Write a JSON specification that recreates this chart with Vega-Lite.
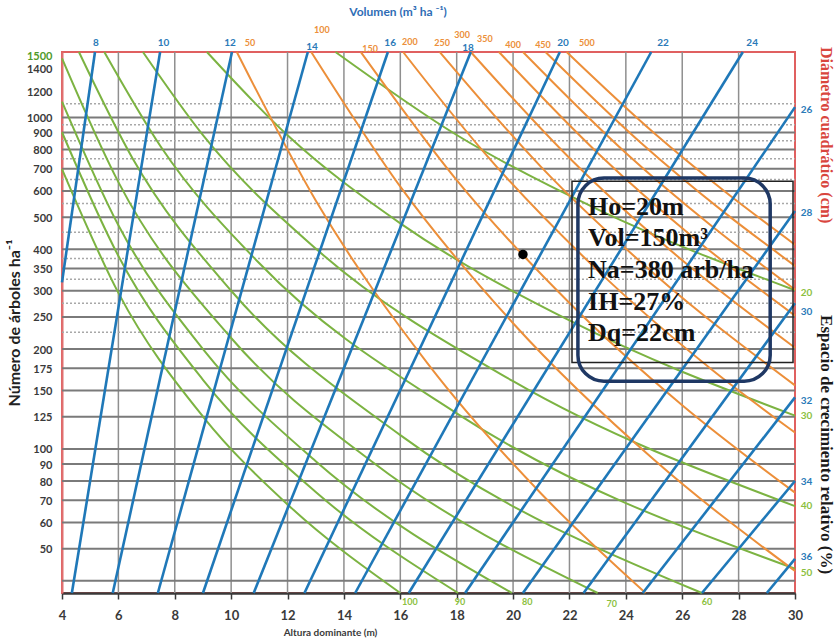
{
 "$schema": "https://vega.github.io/schema/vega-lite/v6.json",
 "width": 733, "height": 541,
 "autosize": {"type": "none"},
 "padding": {"left": 62, "top": 52, "right": 42, "bottom": 49},
 "background": "white",
 "config": {"view": {"stroke": "#e06060", "strokeWidth": 2}},
 "datasets": {
  "vgrid": [{"h":6,"n0":36.75,"n1":1575},{"h":8,"n0":36.75,"n1":1575},{"h":10,"n0":36.75,"n1":1575},{"h":12,"n0":36.75,"n1":1575},{"h":14,"n0":36.75,"n1":1575},{"h":16,"n0":36.75,"n1":1575},{"h":18,"n0":36.75,"n1":1575},{"h":20,"n0":36.75,"n1":1575},{"h":22,"n0":36.75,"n1":1575},{"h":24,"n0":36.75,"n1":1575},{"h":26,"n0":36.75,"n1":1575},{"h":28,"n0":36.75,"n1":1575}],
  "hgrid": [{"n":40,"h":4,"h1":30},{"n":50,"h":4,"h1":30},{"n":60,"h":4,"h1":30},{"n":70,"h":4,"h1":30},{"n":80,"h":4,"h1":30},{"n":90,"h":4,"h1":30},{"n":100,"h":4,"h1":30},{"n":125,"h":4,"h1":30},{"n":150,"h":4,"h1":30},{"n":175,"h":4,"h1":30},{"n":200,"h":4,"h1":30},{"n":250,"h":4,"h1":30},{"n":300,"h":4,"h1":30},{"n":350,"h":4,"h1":30},{"n":400,"h":4,"h1":30},{"n":500,"h":4,"h1":30},{"n":600,"h":4,"h1":30},{"n":700,"h":4,"h1":30},{"n":800,"h":4,"h1":30},{"n":900,"h":4,"h1":30},{"n":1000,"h":4,"h1":30}],
  "hdot": [{"n":1100,"h":4,"h1":30},{"n":950,"h":4,"h1":30},{"n":850,"h":4,"h1":30},{"n":750,"h":4,"h1":30},{"n":650,"h":4,"h1":30},{"n":550,"h":4,"h1":30},{"n":450,"h":4,"h1":30},{"n":375,"h":4,"h1":30},{"n":325,"h":4,"h1":30},{"n":275,"h":4,"h1":30},{"n":225,"h":4,"h1":30}],
  "blue": [
   {"id":"8","h":4,"n":318},{"id":"8","h":5.17,"n":1575},
   {"id":"10","h":4.35,"n":36.75},{"id":"10","h":7.48,"n":1575},
   {"id":"12","h":5.8,"n":36.75},{"id":"12","h":10.03,"n":1575},
   {"id":"14","h":7.4,"n":36.75},{"id":"14","h":12.72,"n":1575},
   {"id":"16","h":9.0,"n":36.75},{"id":"16","h":15.56,"n":1575},
   {"id":"18","h":10.8,"n":36.75},{"id":"18","h":18.5,"n":1575},
   {"id":"20","h":12.6,"n":36.75},{"id":"20","h":21.66,"n":1575},
   {"id":"22","h":14.4,"n":36.75},{"id":"22","h":24.9,"n":1575},
   {"id":"24","h":16.3,"n":36.75},{"id":"24","h":28.15,"n":1575},
   {"id":"26","h":18.3,"n":36.75},{"id":"26","h":30,"n":1074},
   {"id":"28","h":20.35,"n":36.75},{"id":"28","h":30,"n":522},
   {"id":"30","h":22.5,"n":36.75},{"id":"30","h":30,"n":275},
   {"id":"32","h":24.6,"n":36.75},{"id":"32","h":30,"n":143},
   {"id":"34","h":26.7,"n":36.75},{"id":"34","h":30,"n":80},
   {"id":"36","h":29.0,"n":36.75},{"id":"36","h":30,"n":46.6}
  ],
  "green": [
   {"id":"20","h":13.7,"n":1575},{"id":"20","h":18,"n":885},{"id":"20","h":23,"n":528},{"id":"20","h":30,"n":301},
   {"id":"30","h":9.14,"n":1575},{"id":"30","h":12,"n":883},{"id":"30","h":16,"n":479},{"id":"30","h":22,"n":244},{"id":"30","h":30,"n":126},
   {"id":"40","h":6.87,"n":1575},{"id":"40","h":9,"n":884},{"id":"40","h":13,"n":402},{"id":"40","h":20,"n":160},{"id":"40","h":30,"n":67.2},
   {"id":"50","h":5.5,"n":1575},{"id":"50","h":7.5,"n":817},{"id":"50","h":11,"n":363},{"id":"50","h":18,"n":128},{"id":"50","h":30,"n":43.5},
   {"id":"60","h":4.6,"n":1575},{"id":"60","h":6.5,"n":753},{"id":"60","h":10,"n":300},{"id":"60","h":16,"n":110},{"id":"60","h":26.7,"n":36.75},
   {"id":"70","h":4,"n":1507},{"id":"70","h":6,"n":638},{"id":"70","h":10,"n":216},{"id":"70","h":15,"n":91.5},{"id":"70","h":23,"n":36.75},
   {"id":"80","h":4,"n":1116},{"id":"80","h":6,"n":472.5},{"id":"80","h":9,"n":200},{"id":"80","h":13,"n":91.8},{"id":"80","h":19.96,"n":36.75},
   {"id":"90","h":4,"n":902},{"id":"90","h":6,"n":382},{"id":"90","h":9,"n":161.6},{"id":"90","h":13,"n":74.1},{"id":"90","h":18.05,"n":36.75},
   {"id":"100","h":4,"n":698},{"id":"100","h":6,"n":295.5},{"id":"100","h":9,"n":125.2},{"id":"100","h":12,"n":68},{"id":"100","h":16,"n":36.75}
  ],
  "orange": [
   {"id":"50","h":10.2,"n":1575},{"id":"50","h":13,"n":561.5},{"id":"50","h":17,"n":179.6},{"id":"50","h":21,"n":73.2},{"id":"50","h":24.7,"n":36.75},
   {"id":"100","h":12.84,"n":1575},{"id":"100","h":16,"n":618},{"id":"100","h":20,"n":239.4},{"id":"100","h":25,"n":92.7},{"id":"100","h":30,"n":42.8},
   {"id":"150","h":14.6,"n":1575},{"id":"150","h":18,"n":647},{"id":"150","h":22,"n":275.6},{"id":"150","h":26,"n":135.5},{"id":"150","h":30,"n":73.8},
   {"id":"200","h":16.1,"n":1575},{"id":"200","h":19,"n":779},{"id":"200","h":23,"n":345.5},{"id":"200","h":27,"n":174.8},{"id":"200","h":30,"n":112},
   {"id":"250","h":17.4,"n":1575},{"id":"250","h":21,"n":708},{"id":"250","h":25,"n":337.6},{"id":"250","h":30,"n":155.4},
   {"id":"300","h":18.5,"n":1575},{"id":"300","h":22,"n":754},{"id":"300","h":26,"n":370.6},{"id":"300","h":30,"n":201.8},
   {"id":"350","h":19.5,"n":1575},{"id":"350","h":23,"n":781},{"id":"350","h":26.5,"n":427},{"id":"350","h":30,"n":252.4},
   {"id":"400","h":20.35,"n":1575},{"id":"400","h":24,"n":781},{"id":"400","h":27,"n":473.6},{"id":"400","h":30,"n":302.4},
   {"id":"450","h":21.15,"n":1575},{"id":"450","h":24.5,"n":843},{"id":"450","h":27.5,"n":516},{"id":"450","h":30,"n":356.5},
   {"id":"500","h":21.9,"n":1575},{"id":"500","h":25,"n":897},{"id":"500","h":27.5,"n":598.5},{"id":"500","h":30,"n":413}
  ],
  "blueTop": [{"t":"8","h":5.2,"n":1677},{"t":"10","h":7.6,"n":1677},{"t":"12","h":9.96,"n":1677},{"t":"14","h":12.87,"n":1630},{"t":"16","h":15.64,"n":1677},{"t":"18","h":18.4,"n":1620},{"t":"20","h":21.77,"n":1677},{"t":"22","h":25.32,"n":1677},{"t":"24","h":28.48,"n":1677}],
  "blueRight": [{"t":"26","h":30.2,"n":1052},{"t":"28","h":30.2,"n":514},{"t":"30","h":30.2,"n":258},{"t":"32","h":30.2,"n":139.9},{"t":"34","h":30.2,"n":79.7},{"t":"36","h":30.2,"n":47.3}],
  "greenRight": [{"t":"20","h":30.2,"n":294.5},{"t":"30","h":30.2,"n":126},{"t":"40","h":30.2,"n":67.4},{"t":"50","h":30.2,"n":42.3}],
  "greenBottom": [{"t":"100","h":16.34,"n":34.6},{"t":"90","h":18.12,"n":34.6},{"t":"80","h":20.5,"n":34.6},{"t":"70","h":23.5,"n":34.0},{"t":"60","h":26.88,"n":34.6}],
  "orangeTop": [{"t":"50","h":10.67,"n":1677},{"t":"100","h":13.22,"n":1835},{"t":"150","h":14.93,"n":1608},{"t":"200","h":16.34,"n":1688},{"t":"250","h":17.48,"n":1677},{"t":"300","h":18.19,"n":1775},{"t":"350","h":19.0,"n":1725},{"t":"400","h":20.0,"n":1654},{"t":"450","h":21.06,"n":1654},{"t":"500","h":22.62,"n":1677}],
  "topTitle": [{"t":"Volumen (m³ ha ⁻¹)","h":15.92,"n":2080}],
  "rightRed": [{"t":"Diámetro cuadrático (cm)","h":31.1,"n":884}],
  "rightBlack": [{"t":"Espacio de crecimiento relativo (%)","h":31.1,"n":103}],
  "boxText": [{"t":"Ho=20m","h":22.66,"n":537},{"t":"Vol=150m³","h":22.66,"n":432},{"t":"Na=380 arb/ha","h":22.66,"n":345.7},{"t":"IH=27%","h":22.66,"n":277},{"t":"Dq=22cm","h":22.66,"n":223}],
  "rect1": [{"h":22.09,"h2":29.93,"n":641.7,"n2":182.2}],
  "rect2": [{"h":22.3,"h2":29.12,"n":656,"n2":160}],
  "dot": [{"h":20.35,"n":386}]
 },
 "encoding": {
  "x": {"field": "h", "type": "quantitative", "scale": {"domain": [4, 30], "nice": false, "zero": false},
   "axis": {"values": [4,6,8,10,12,14,16,18,20,22,24,26,28,30], "title": "Altura dominante (m)", "grid": false,
    "labelFontSize": 13, "labelFontWeight": "bold", "labelColor": "#3a3a3a", "labelFont": "Lato", "labelFlush": false,
    "domainColor": "#3a3a3a", "domainWidth": 2.5, "tickColor": "#3a3a3a", "tickSize": 6, "tickWidth": 1.5, "labelPadding": 10,
    "titleFont": "Lato", "titleFontSize": 10, "titleFontWeight": "bold", "titleColor": "#3a3a3a",
    "titleX": 268, "titleY": 39, "titleAlign": "center", "titleBaseline": "middle"}},
  "y": {"field": "n", "type": "quantitative", "scale": {"type": "log", "domain": [36.75, 1575], "nice": false},
   "axis": {"values": [50,60,70,80,90,100,125,150,175,200,250,300,350,400,500,600,700,800,900,1000,1200,1400,1500],
    "format": "d", "title": "Número de árboles ha⁻¹", "grid": false, "ticks": false, "tickSize": 0, "labelPadding": 10,
    "labelFontSize": 11, "labelFontWeight": "bold", "labelFont": "Lato", "labelOverlap": false, "labelBound": false,
    "labelColor": {"condition": {"test": "datum.value == 1500", "value": "#4f9a2a"}, "value": "#3a3a3a"},
    "labelOffset": {"condition": {"test": "datum.value == 1500", "value": -3}, "value": 1},
    "domainColor": "#e07070", "domainWidth": 2,
    "titleFont": "Lato", "titleFontSize": 16, "titleFontWeight": "bold", "titleColor": "#222", "titlePadding": 4}}
 },
 "layer": [
  {
   "data": {"name": "vgrid"},
   "mark": {"type": "rule", "color": "#8f8f8f", "strokeWidth": 1.5},
   "encoding": {"y": {"field": "n0", "type": "quantitative"}, "y2": {"field": "n1"}}
  },
  {
   "data": {"name": "hgrid"},
   "mark": {"type": "rule", "color": "#7a7a7a", "strokeWidth": 2},
   "encoding": {"x2": {"field": "h1"}}
  },
  {
   "data": {"name": "hdot"},
   "mark": {"type": "rule", "color": "#a8a8a8", "strokeWidth": 1.5, "strokeDash": [2, 2]},
   "encoding": {"x2": {"field": "h1"}}
  },
  {
   "data": {"name": "green"},
   "mark": {"type": "line", "color": "#7cb342", "strokeWidth": 2, "interpolate": "monotone"},
   "encoding": {"detail": {"field": "id", "type": "nominal"}}
  },
  {
   "data": {"name": "orange"},
   "mark": {"type": "line", "color": "#ec8f3a", "strokeWidth": 2, "interpolate": "monotone"},
   "encoding": {"detail": {"field": "id", "type": "nominal"}}
  },
  {
   "data": {"name": "blue"},
   "mark": {"type": "line", "color": "#1f78b8", "strokeWidth": 2.6},
   "encoding": {"detail": {"field": "id", "type": "nominal"}}
  },
  {
   "data": {"name": "rect1"},
   "mark": {"type": "rect", "fill": "transparent", "stroke": "#222", "strokeWidth": 1.5},
   "encoding": {"x2": {"field": "h2"}, "y2": {"field": "n2"}}
  },
  {
   "data": {"name": "rect2"},
   "mark": {"type": "rect", "fill": "transparent", "stroke": "#1f3864", "strokeWidth": 3.5, "cornerRadius": 26},
   "encoding": {"x2": {"field": "h2"}, "y2": {"field": "n2"}}
  },
  {
   "data": {"name": "dot"},
   "mark": {"type": "point", "filled": true, "color": "#000", "size": 90, "opacity": 1},
   "encoding": {}
  },
  {
   "data": {"name": "boxText"},
   "mark": {"type": "text", "font": "Liberation Serif", "fontSize": 26, "fontWeight": "bold", "align": "left", "baseline": "middle", "color": "#111"},
   "encoding": {"text": {"field": "t"}}
  },
  {
   "data": {"name": "blueTop"},
   "mark": {"type": "text", "font": "Lato", "fontSize": 10, "fontWeight": "bold", "align": "center", "baseline": "middle", "color": "#2a7ab8"},
   "encoding": {"text": {"field": "t"}}
  },
  {
   "data": {"name": "blueRight"},
   "mark": {"type": "text", "font": "Lato", "fontSize": 10, "fontWeight": "bold", "align": "left", "baseline": "middle", "color": "#2a7ab8"},
   "encoding": {"text": {"field": "t"}}
  },
  {
   "data": {"name": "greenRight"},
   "mark": {"type": "text", "font": "Lato", "fontSize": 10, "fontWeight": "bold", "align": "left", "baseline": "middle", "color": "#8cbf3f"},
   "encoding": {"text": {"field": "t"}}
  },
  {
   "data": {"name": "greenBottom"},
   "mark": {"type": "text", "font": "Lato", "fontSize": 9, "fontWeight": "bold", "align": "center", "baseline": "middle", "color": "#8cbf3f"},
   "encoding": {"text": {"field": "t"}}
  },
  {
   "data": {"name": "orangeTop"},
   "mark": {"type": "text", "font": "Lato", "fontSize": 9, "fontWeight": "bold", "align": "center", "baseline": "middle", "color": "#ec8f3a"},
   "encoding": {"text": {"field": "t"}}
  },
  {
   "data": {"name": "topTitle"},
   "mark": {"type": "text", "font": "Lato", "fontSize": 12, "fontWeight": "bold", "align": "center", "baseline": "middle", "color": "#2f6db5"},
   "encoding": {"text": {"field": "t"}}
  },
  {
   "data": {"name": "rightRed"},
   "mark": {"type": "text", "font": "Liberation Serif", "fontSize": 16, "fontWeight": "bold", "align": "center", "baseline": "middle", "angle": 90, "color": "#d9463e"},
   "encoding": {"text": {"field": "t"}}
  },
  {
   "data": {"name": "rightBlack"},
   "mark": {"type": "text", "font": "Liberation Serif", "fontSize": 17, "fontWeight": "bold", "align": "center", "baseline": "middle", "angle": 90, "color": "#1a1a1a"},
   "encoding": {"text": {"field": "t"}}
  }
 ]
}
